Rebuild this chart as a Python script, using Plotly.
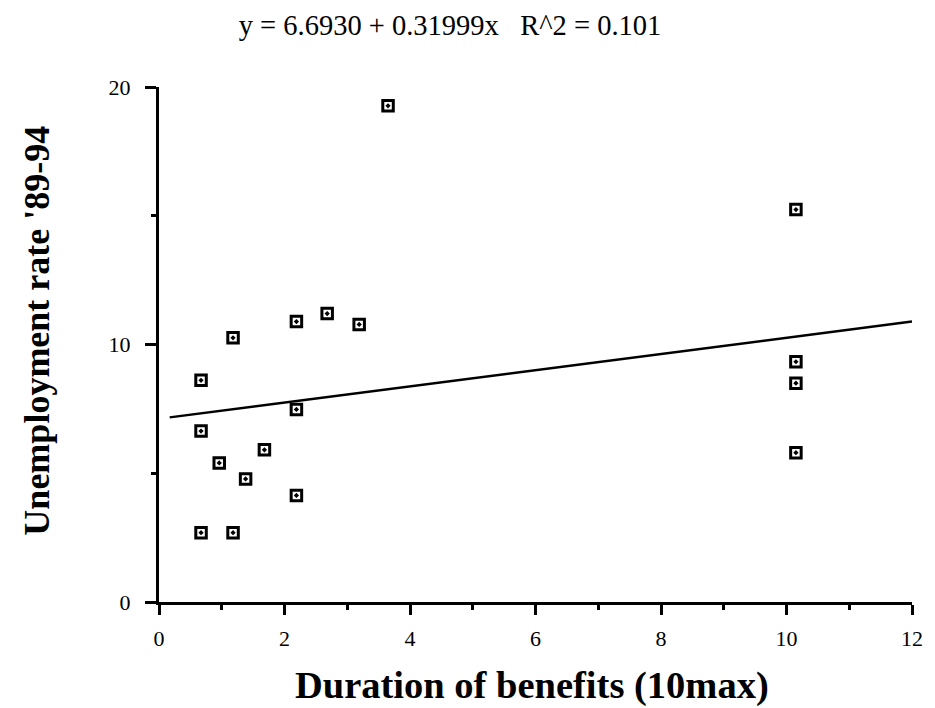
import plotly.graph_objects as go

# Data
duration = [3.65, 10.15, 2.68, 2.19, 3.19, 1.18, 10.15, 0.67, 10.15, 2.19,
            0.67, 1.68, 10.15, 0.96, 1.38, 2.19, 0.67, 1.18]
unemployment = [19.27, 15.24, 11.20, 10.89, 10.78, 10.26, 9.33, 8.61, 8.50, 7.48,
                6.64, 5.91, 5.80, 5.40, 4.78, 4.14, 2.69, 2.69]

# Fitted line as drawn (end points)
fit_x = [0.17, 12.0]
fit_y = [7.17, 10.89]

title_text = "y = 6.6930 + 0.31999x\u00a0\u00a0\u00a0R^2 = 0.101"
x_title = "Duration of benefits (10max)"
y_title = "Unemployment rate '89-94"

x_ticks = [0, 2, 4, 6, 8, 10, 12]
y_ticks = [0, 10, 20]

FONT = "Liberation Serif, Times New Roman, serif"

fig = go.Figure()
fig.add_trace(go.Scatter(
    x=fit_x, y=fit_y, mode="lines",
    line=dict(color="black", width=2.5),
    hoverinfo="skip", showlegend=False,
))
fig.add_trace(go.Scatter(
    x=duration, y=unemployment, mode="markers",
    marker=dict(symbol="square-dot", size=10.5, color="white",
                line=dict(color="black", width=3)),
    showlegend=False,
))

fig.update_layout(
    width=935, height=708,
    paper_bgcolor="white", plot_bgcolor="white",
    margin=dict(l=159, r=13, t=87, b=106),
    font=dict(family=FONT, color="black"),
    title=dict(text=title_text, x=450/935, xref="container", xanchor="center",
               y=1 - 25/708, yref="container", yanchor="middle",
               font=dict(family=FONT, size=28.5, color="black")),
    annotations=[
        dict(text=x_title, xref="paper", yref="paper", x=0.496, y=-83/515,
             xanchor="center", yanchor="middle", showarrow=False,
             font=dict(family=FONT, size=38.5, color="black", weight="bold")),
        dict(text=y_title, xref="paper", yref="paper", x=-124/763, y=271/515,
             xanchor="center", yanchor="middle", showarrow=False, textangle=-90,
             font=dict(family=FONT, size=36, color="black", weight="bold")),
    ],
)
fig.update_xaxes(
    range=[0, 12], tickvals=x_ticks, ticktext=[str(v) for v in x_ticks],
    showline=True, linecolor="black", linewidth=3, mirror=False,
    ticks="outside", ticklen=10, tickwidth=3, tickcolor="black",
    minor=dict(tickvals=[1, 3, 5, 7, 9, 11], ticks="outside", ticklen=5,
               tickwidth=3, tickcolor="black"),
    showgrid=False, zeroline=False,
    tickfont=dict(family=FONT, size=22, color="black"),
    ticklabelstandoff=5,
)
fig.update_yaxes(
    range=[0, 20], tickvals=y_ticks, ticktext=[str(v) for v in y_ticks],
    showline=True, linecolor="black", linewidth=3, mirror=False,
    ticks="outside", ticklen=11, tickwidth=3, tickcolor="black",
    minor=dict(tickvals=[5, 15], ticks="outside", ticklen=5,
               tickwidth=3, tickcolor="black"),
    showgrid=False, zeroline=False,
    tickfont=dict(family=FONT, size=22, color="black"),
    ticklabelstandoff=10,
)

fig.write_html("out.html", config={"displayModeBar": False},
               post_script="document.body.style.margin='0';")
